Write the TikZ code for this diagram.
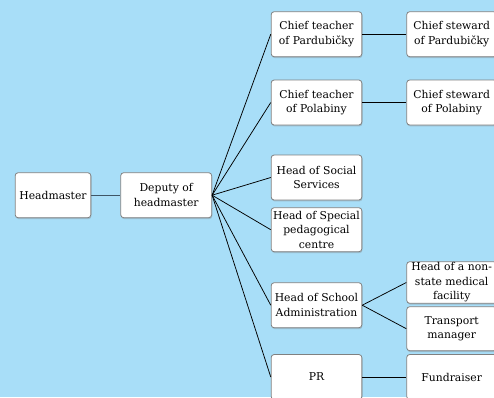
\documentclass[tikz,border=0pt]{standalone}
\usepackage{fontspec}
\setmainfont{DejaVu Serif}
\usetikzlibrary{shadows}
\definecolor{bg}{HTML}{A8DEF8}
\definecolor{bordergray}{HTML}{808080}
\definecolor{slate}{HTML}{3E5566}
\tikzset{
  box/.style={draw=bordergray, line width=0.8pt, fill=white, rounded corners=3pt,
    align=center, inner sep=1pt, font=\fontsize{10.8}{14.5}\selectfont,
    drop shadow={opacity=0.35, shadow xshift=0.6pt, shadow yshift=-1.4pt}},
  link/.style={draw=black, line width=0.75pt},
}
\begin{document}
\begin{tikzpicture}[x=1pt,y=-1pt]
\fill[bg] (0,0) rectangle (494,397);
\useasboundingbox (0,0) rectangle (494,397);
\clip (0,0) rectangle (494,397);
\node[box, minimum width=75.7pt, minimum height=45pt] (head) at (53,195.2) {Headmaster};
\node[box, minimum width=91pt, minimum height=45pt] (dep) at (166.2,195.2) {Deputy of\\headmaster};
\node[box, minimum width=90.7pt, minimum height=45pt] (pard) at (316.5,34.2) {Chief teacher\\of Pardubičky};
\node[box, minimum width=90.7pt, minimum height=45pt] (pol) at (316.5,102.5) {Chief teacher\\of Polabiny};
\node[box, minimum width=90.7pt, minimum height=45pt] (soc) at (316.5,177.5) {Head of Social\\Services};
\node[box, minimum width=90.7pt, minimum height=44pt] (spec) at (316.5,229.7) {Head of Special\\pedagogical\\centre};
\node[box, minimum width=90.7pt, minimum height=45pt] (adm) at (316.5,305.2) {Head of School\\Administration};
\node[box, minimum width=90.7pt, minimum height=45pt] (pr) at (316.5,377) {PR};
\node[box, minimum width=90pt, minimum height=45pt] (stp) at (451.7,34.2) {Chief steward\\of Pardubičky};
\node[box, minimum width=90pt, minimum height=45pt] (stpol) at (451.7,102.5) {Chief steward\\of Polabiny};
\node[box, minimum width=90pt, minimum height=41.6pt] (med) at (451.7,282.5) {Head of a non-\\state medical\\facility};
\node[box, minimum width=90pt, minimum height=44pt] (trans) at (451.7,328.7) {Transport\\manager};
\node[box, minimum width=90pt, minimum height=45pt] (fund) at (451.7,377) {Fundraiser};
\draw[draw=slate, line width=1.2pt] (head.east) -- (dep.west);
\foreach \n in {pard,pol,soc,spec,adm,pr} {\draw[link] (dep.east) -- (\n.west);}
\draw[link] (pard.east) -- (stp.west);
\draw[link] (pol.east) -- (stpol.west);
\draw[link] (adm.east) -- (med.west);
\draw[link] (adm.east) -- (trans.west);
\draw[link] (pr.east) -- (fund.west);
\end{tikzpicture}
\end{document}
